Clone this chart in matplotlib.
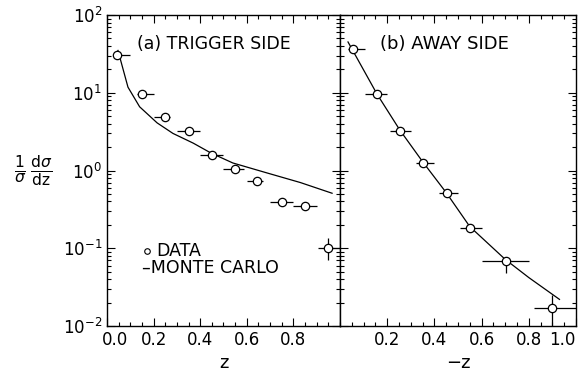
import numpy as np
import matplotlib
matplotlib.use("Agg")
import matplotlib.pyplot as plt
import matplotlib.transforms as mtransforms
from matplotlib.ticker import LogLocator, MultipleLocator, NullFormatter

# (a) trigger side data
z_trig = [0.045, 0.15, 0.25, 0.35, 0.45, 0.55, 0.645, 0.75, 0.85, 0.95]
y_trig = [30.6, 9.6, 4.9, 3.2, 1.58, 1.05, 0.73, 0.39, 0.35, 0.10]
lo_trig = [0.035, 0.13, 0.20, 0.30, 0.40, 0.50, 0.60, 0.70, 0.80, 0.905]
hi_trig = [0.10, 0.20, 0.27, 0.40, 0.50, 0.59, 0.67, 0.80, 0.90, 1.03]
ylo_trig = [30.6, 9.6, 4.9, 3.2, 1.58, 1.05, 0.73, 0.36, 0.35, 0.07]
yhi_trig = [30.6, 9.6, 4.9, 3.2, 1.58, 1.05, 0.73, 0.42, 0.35, 0.135]
# monte carlo curve, trigger side
mcz_trig = [0.047, 0.09, 0.14, 0.215, 0.283, 0.37, 0.446, 0.54, 0.687, 0.83, 0.966]
mcy_trig = [35, 11.8, 6.6, 4.1, 3.0, 2.25, 1.68, 1.25, 0.93, 0.70, 0.51]

# (b) away side data
z_away = [0.055, 0.157, 0.254, 0.35, 0.453, 0.55, 0.703, 0.90]
y_away = [36.6, 9.6, 3.2, 1.25, 0.51, 0.18, 0.069, 0.017]
lo_away = [0.035, 0.105, 0.21, 0.32, 0.42, 0.51, 0.60, 0.82]
hi_away = [0.105, 0.20, 0.30, 0.40, 0.50, 0.60, 0.80, 1.00]
ylo_away = [36.6, 9.6, 3.2, 1.25, 0.51, 0.165, 0.048, 0.01]
yhi_away = [36.6, 9.6, 3.2, 1.25, 0.51, 0.20, 0.078, 0.025]
mcz_away = [0.034, 0.157, 0.254, 0.35, 0.45, 0.55, 0.70, 0.80, 0.93]
mcy_away = [45, 9.6, 3.3, 1.3, 0.52, 0.19, 0.072, 0.042, 0.022]

plt.rcParams['font.family'] = ['DejaVu Sans']
plt.rcParams['mathtext.fontset'] = 'dejavusans'

fig = plt.figure(figsize=(5.79, 3.74), dpi=100)
ax1 = fig.add_axes([0.1848, 0.1283, 0.4024, 0.8316])
ax2 = fig.add_axes([0.5872, 0.1283, 0.4076, 0.8316])


def panel(ax, z, y, lo, hi, ylo, yhi, mcz, mcy):
    z = np.array(z); y = np.array(y)
    xerr = [z - np.array(lo), np.array(hi) - z]
    yerr = [y - np.array(ylo), np.array(yhi) - y]
    ax.plot(mcz, mcy, color='black', lw=0.9)
    eb = ax.errorbar(z, y, xerr=xerr, yerr=yerr, fmt='o', ms=6, mfc='white',
                     mec='black', mew=0.9, ecolor='black', elinewidth=0.9,
                     capsize=0, zorder=3)
    for art in eb.lines[2]:
        art.set_clip_on(False)
    ax.set_yscale('log')
    ax.set_ylim(1e-2, 1e2)
    ax.set_xlim(0, 1.0)
    ax.yaxis.set_major_locator(LogLocator(base=10, numticks=10))
    ax.yaxis.set_minor_locator(LogLocator(base=10, subs=np.arange(2, 10), numticks=20))
    ax.xaxis.set_minor_locator(MultipleLocator(0.05))
    ax.tick_params(which='both', direction='in', top=True, right=True,
                   width=0.8, labelsize=12, colors='black')
    ax.tick_params(which='major', length=6)
    ax.tick_params(which='minor', length=3)
    for s in ax.spines.values():
        s.set_linewidth(1.0)


panel(ax1, z_trig, y_trig, lo_trig, hi_trig, ylo_trig, yhi_trig, mcz_trig, mcy_trig)
panel(ax2, z_away, y_away, lo_away, hi_away, ylo_away, yhi_away, mcz_away, mcy_away)

ax1.set_xticks([0.0, 0.2, 0.4, 0.6, 0.8])
ax1.set_xticklabels(['0.0', '0.2', '0.4', '0.6', '0.8'])
ax1.set_yticks([1e-2, 1e-1, 1e0, 1e1, 1e2])
ax1.set_yticklabels([r'$10^{-2}$', r'$10^{-1}$', r'$10^{0}$', r'$10^{1}$', r'$10^{2}$'])
ax2.set_xticks([0.2, 0.4, 0.6, 0.8, 1.0])
ax2.set_xticklabels(['0.2', '0.4', '0.6', '0.8', '1.0'])
ax2.yaxis.set_major_formatter(NullFormatter())
ax2.yaxis.set_minor_formatter(NullFormatter())

# nudge edge labels like in the original
lab0 = ax1.get_xticklabels()[0]
lab0.set_transform(lab0.get_transform() + mtransforms.ScaledTranslation(8 / 100, 0, fig.dpi_scale_trans))
lab1 = ax2.get_xticklabels()[-1]
lab1.set_transform(lab1.get_transform() + mtransforms.ScaledTranslation(-14 / 100, 0, fig.dpi_scale_trans))

ax1.set_xlabel('z', fontsize=13, labelpad=4)
ax2.set_xlabel('−z', fontsize=13, labelpad=4)

ax1.text(0.13, 0.89, '(a) TRIGGER SIDE', transform=ax1.transAxes, fontsize=12.5)
ax2.text(0.17, 0.89, '(b) AWAY SIDE', transform=ax2.transAxes, fontsize=13)

ax1.text(0.21, 0.24, 'DATA', transform=ax1.transAxes, fontsize=12.5, va='center')
ax1.plot([0.17], [0.24], 'o', ms=4, mfc='white', mec='black', mew=0.8,
         transform=ax1.transAxes)
ax1.text(0.15, 0.185, '\u2013MONTE CARLO', transform=ax1.transAxes, fontsize=12.5,
         va='center')

fig.text(0.057, 0.545, r'$\frac{\mathrm{1}}{\sigma}\,\frac{\mathrm{d}\sigma}{\mathrm{dz}}$',
         fontsize=16, ha='center', va='center')

fig.savefig('out.png', dpi=100)
